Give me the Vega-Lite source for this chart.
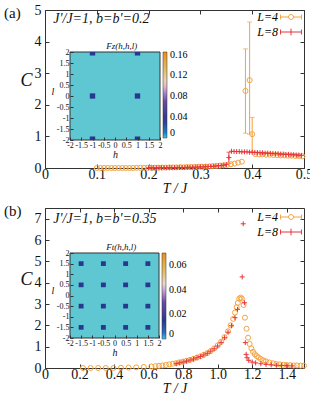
{
  "$schema": "https://vega.github.io/schema/vega-lite/v6.json",
  "padding": {"left": 3, "top": 2, "right": 0, "bottom": 0},
  "config": {
    "font": "Liberation Serif, Times New Roman, DejaVu Serif, serif",
    "view": {"stroke": "#333", "strokeWidth": 1},
    "axis": {"grid": false, "labelFont": "Liberation Serif, Times New Roman, DejaVu Serif, serif", "titleFont": "Liberation Serif, Times New Roman, DejaVu Serif, serif", "domainColor": "#333", "tickColor": "#333", "labelColor": "#111", "titleColor": "#111", "labelFlush": false, "labelOverlap": false},
    "legend": {"labelFont": "Liberation Serif, Times New Roman, DejaVu Serif, serif"},
    "text": {"color": "#111"}
  },
  "datasets": {
    "a": [
      {"T":0.100,"C":0,"L":"L=4"},{"T":0.107,"C":0,"L":"L=4"},{"T":0.114,"C":0,"L":"L=4"},{"T":0.121,"C":0,"L":"L=4"},{"T":0.128,"C":0,"L":"L=4"},{"T":0.135,"C":0,"L":"L=4"},{"T":0.142,"C":0,"L":"L=4"},{"T":0.149,"C":0,"L":"L=4"},{"T":0.156,"C":0,"L":"L=4"},{"T":0.163,"C":0,"L":"L=4"},{"T":0.170,"C":0,"L":"L=4"},{"T":0.177,"C":0.005,"L":"L=4"},{"T":0.184,"C":0.005,"L":"L=4"},{"T":0.191,"C":0.005,"L":"L=4"},{"T":0.198,"C":0.01,"L":"L=4"},{"T":0.205,"C":0.01,"L":"L=4"},{"T":0.212,"C":0.01,"L":"L=4"},{"T":0.219,"C":0.01,"L":"L=4"},{"T":0.226,"C":0.015,"L":"L=4"},{"T":0.233,"C":0.015,"L":"L=4"},{"T":0.240,"C":0.02,"L":"L=4"},{"T":0.247,"C":0.02,"L":"L=4"},{"T":0.254,"C":0.02,"L":"L=4"},{"T":0.261,"C":0.025,"L":"L=4"},{"T":0.268,"C":0.025,"L":"L=4"},{"T":0.275,"C":0.03,"L":"L=4"},{"T":0.282,"C":0.03,"L":"L=4"},{"T":0.289,"C":0.035,"L":"L=4"},{"T":0.296,"C":0.04,"L":"L=4"},{"T":0.303,"C":0.04,"L":"L=4"},{"T":0.310,"C":0.045,"L":"L=4"},{"T":0.317,"C":0.05,"L":"L=4"},{"T":0.324,"C":0.06,"L":"L=4"},{"T":0.331,"C":0.065,"L":"L=4"},{"T":0.338,"C":0.075,"L":"L=4"},{"T":0.345,"C":0.085,"L":"L=4"},{"T":0.352,"C":0.1,"L":"L=4"},{"T":0.359,"C":0.12,"L":"L=4"},{"T":0.366,"C":0.14,"L":"L=4"},{"T":0.373,"C":0.17,"L":"L=4"},{"T":0.380,"C":0.2,"L":"L=4"},
      {"T":0.387,"C":2.44,"L":"L=4","lo":1.1,"hi":3.77},{"T":0.395,"C":2.78,"L":"L=4","lo":1.07,"hi":4.62},{"T":0.400,"C":1.07,"L":"L=4","lo":0.5,"hi":1.6},
      {"T":0.406,"C":0.44,"L":"L=4"},{"T":0.413,"C":0.43,"L":"L=4"},{"T":0.420,"C":0.43,"L":"L=4"},{"T":0.427,"C":0.42,"L":"L=4"},{"T":0.434,"C":0.42,"L":"L=4"},{"T":0.441,"C":0.41,"L":"L=4"},{"T":0.448,"C":0.41,"L":"L=4"},{"T":0.455,"C":0.40,"L":"L=4"},{"T":0.462,"C":0.40,"L":"L=4"},{"T":0.469,"C":0.39,"L":"L=4"},{"T":0.476,"C":0.39,"L":"L=4"},{"T":0.483,"C":0.38,"L":"L=4"},{"T":0.490,"C":0.38,"L":"L=4"},{"T":0.497,"C":0.37,"L":"L=4"},
      {"T":0.200,"C":0.005,"L":"L=8"},{"T":0.205,"C":0.005,"L":"L=8"},{"T":0.210,"C":0.005,"L":"L=8"},{"T":0.215,"C":0.006,"L":"L=8"},{"T":0.220,"C":0.007,"L":"L=8"},{"T":0.225,"C":0.008,"L":"L=8"},{"T":0.230,"C":0.009,"L":"L=8"},{"T":0.235,"C":0.01,"L":"L=8"},{"T":0.240,"C":0.011,"L":"L=8"},{"T":0.245,"C":0.012,"L":"L=8"},{"T":0.250,"C":0.013,"L":"L=8"},{"T":0.255,"C":0.014,"L":"L=8"},{"T":0.260,"C":0.015,"L":"L=8"},{"T":0.265,"C":0.016,"L":"L=8"},{"T":0.270,"C":0.018,"L":"L=8"},{"T":0.275,"C":0.02,"L":"L=8"},{"T":0.280,"C":0.022,"L":"L=8"},{"T":0.285,"C":0.024,"L":"L=8"},{"T":0.290,"C":0.027,"L":"L=8"},{"T":0.295,"C":0.03,"L":"L=8"},{"T":0.300,"C":0.033,"L":"L=8"},{"T":0.305,"C":0.036,"L":"L=8"},{"T":0.310,"C":0.04,"L":"L=8"},{"T":0.315,"C":0.045,"L":"L=8"},{"T":0.320,"C":0.05,"L":"L=8"},{"T":0.325,"C":0.055,"L":"L=8"},{"T":0.330,"C":0.062,"L":"L=8"},{"T":0.335,"C":0.07,"L":"L=8"},{"T":0.340,"C":0.08,"L":"L=8"},{"T":0.345,"C":0.09,"L":"L=8"},{"T":0.350,"C":0.105,"L":"L=8"},
      {"T":0.355,"C":0.33,"L":"L=8","lo":0.15,"hi":0.5},
      {"T":0.360,"C":0.53,"L":"L=8"},{"T":0.365,"C":0.52,"L":"L=8"},{"T":0.370,"C":0.52,"L":"L=8"},{"T":0.375,"C":0.52,"L":"L=8"},{"T":0.380,"C":0.51,"L":"L=8"},{"T":0.385,"C":0.51,"L":"L=8"},{"T":0.390,"C":0.51,"L":"L=8"},{"T":0.395,"C":0.50,"L":"L=8"},{"T":0.400,"C":0.50,"L":"L=8"},{"T":0.405,"C":0.49,"L":"L=8"},{"T":0.410,"C":0.49,"L":"L=8"},{"T":0.415,"C":0.48,"L":"L=8"},{"T":0.420,"C":0.48,"L":"L=8"},{"T":0.425,"C":0.47,"L":"L=8"},{"T":0.430,"C":0.47,"L":"L=8"},{"T":0.435,"C":0.46,"L":"L=8"},{"T":0.440,"C":0.46,"L":"L=8"},{"T":0.445,"C":0.45,"L":"L=8"},{"T":0.450,"C":0.45,"L":"L=8"},{"T":0.455,"C":0.44,"L":"L=8"},{"T":0.460,"C":0.44,"L":"L=8"},{"T":0.465,"C":0.43,"L":"L=8"},{"T":0.470,"C":0.43,"L":"L=8"},{"T":0.475,"C":0.42,"L":"L=8"},{"T":0.480,"C":0.42,"L":"L=8"},{"T":0.485,"C":0.41,"L":"L=8"},{"T":0.490,"C":0.41,"L":"L=8"},{"T":0.495,"C":0.40,"L":"L=8"}
    ],
    "b": [
      {"T":0.22,"C":0,"L":"L=4"},{"T":0.264,"C":0,"L":"L=4"},{"T":0.308,"C":0,"L":"L=4"},{"T":0.352,"C":0,"L":"L=4"},{"T":0.396,"C":0,"L":"L=4"},{"T":0.44,"C":0.01,"L":"L=4"},{"T":0.484,"C":0.02,"L":"L=4"},{"T":0.528,"C":0.03,"L":"L=4"},{"T":0.572,"C":0.05,"L":"L=4"},{"T":0.616,"C":0.07,"L":"L=4"},{"T":0.64,"C":0.09,"L":"L=4"},{"T":0.66,"C":0.1,"L":"L=4"},{"T":0.68,"C":0.12,"L":"L=4"},{"T":0.70,"C":0.14,"L":"L=4"},{"T":0.72,"C":0.17,"L":"L=4"},{"T":0.74,"C":0.2,"L":"L=4"},{"T":0.76,"C":0.23,"L":"L=4"},{"T":0.78,"C":0.27,"L":"L=4"},{"T":0.80,"C":0.3,"L":"L=4"},{"T":0.82,"C":0.34,"L":"L=4"},{"T":0.84,"C":0.38,"L":"L=4"},{"T":0.86,"C":0.43,"L":"L=4"},{"T":0.88,"C":0.49,"L":"L=4"},{"T":0.90,"C":0.55,"L":"L=4"},{"T":0.92,"C":0.62,"L":"L=4"},{"T":0.94,"C":0.7,"L":"L=4"},{"T":0.96,"C":0.8,"L":"L=4"},{"T":0.98,"C":0.92,"L":"L=4"},{"T":1.00,"C":1.06,"L":"L=4"},{"T":1.02,"C":1.23,"L":"L=4"},{"T":1.04,"C":1.45,"L":"L=4"},{"T":1.06,"C":1.72,"L":"L=4"},{"T":1.075,"C":2.0,"L":"L=4"},{"T":1.09,"C":2.3,"L":"L=4"},{"T":1.10,"C":2.6,"L":"L=4"},{"T":1.11,"C":2.85,"L":"L=4"},{"T":1.117,"C":3.05,"L":"L=4"},{"T":1.125,"C":3.25,"L":"L=4"},{"T":1.133,"C":3.3,"L":"L=4"},{"T":1.14,"C":3.25,"L":"L=4"},{"T":1.15,"C":2.95,"L":"L=4"},{"T":1.158,"C":2.36,"L":"L=4"},{"T":1.167,"C":1.84,"L":"L=4"},{"T":1.176,"C":1.42,"L":"L=4"},{"T":1.185,"C":1.13,"L":"L=4"},{"T":1.195,"C":0.92,"L":"L=4"},{"T":1.205,"C":0.76,"L":"L=4"},{"T":1.215,"C":0.65,"L":"L=4"},{"T":1.226,"C":0.56,"L":"L=4"},{"T":1.237,"C":0.49,"L":"L=4"},{"T":1.25,"C":0.42,"L":"L=4"},{"T":1.265,"C":0.36,"L":"L=4"},{"T":1.28,"C":0.31,"L":"L=4"},{"T":1.30,"C":0.26,"L":"L=4"},{"T":1.32,"C":0.22,"L":"L=4"},{"T":1.34,"C":0.19,"L":"L=4"},{"T":1.36,"C":0.17,"L":"L=4"},{"T":1.38,"C":0.15,"L":"L=4"},{"T":1.40,"C":0.14,"L":"L=4"},{"T":1.42,"C":0.13,"L":"L=4"},{"T":1.44,"C":0.12,"L":"L=4"},{"T":1.46,"C":0.12,"L":"L=4"},{"T":1.48,"C":0.11,"L":"L=4"},{"T":1.50,"C":0.11,"L":"L=4"},
      {"T":0.76,"C":0.2,"L":"L=8"},{"T":0.78,"C":0.24,"L":"L=8"},{"T":0.80,"C":0.28,"L":"L=8"},{"T":0.82,"C":0.32,"L":"L=8"},{"T":0.84,"C":0.37,"L":"L=8"},{"T":0.86,"C":0.42,"L":"L=8"},{"T":0.88,"C":0.48,"L":"L=8"},{"T":0.90,"C":0.54,"L":"L=8"},{"T":0.92,"C":0.61,"L":"L=8"},{"T":0.94,"C":0.69,"L":"L=8"},{"T":0.96,"C":0.79,"L":"L=8"},{"T":0.98,"C":0.9,"L":"L=8"},{"T":1.00,"C":1.03,"L":"L=8"},{"T":1.02,"C":1.2,"L":"L=8"},{"T":1.04,"C":1.42,"L":"L=8"},{"T":1.06,"C":1.68,"L":"L=8"},{"T":1.08,"C":1.98,"L":"L=8"},{"T":1.10,"C":2.36,"L":"L=8"},{"T":1.115,"C":2.75,"L":"L=8"},{"T":1.142,"C":4.27,"L":"L=8"},{"T":1.148,"C":6.76,"L":"L=8"},{"T":1.155,"C":3.06,"L":"L=8"},{"T":1.16,"C":1.19,"L":"L=8"},{"T":1.165,"C":0.64,"L":"L=8"},{"T":1.17,"C":0.48,"L":"L=8"},{"T":1.18,"C":0.36,"L":"L=8"},{"T":1.20,"C":0.28,"L":"L=8"},{"T":1.22,"C":0.24,"L":"L=8"},{"T":1.25,"C":0.2,"L":"L=8"},{"T":1.28,"C":0.17,"L":"L=8"},{"T":1.31,"C":0.15,"L":"L=8"},{"T":1.34,"C":0.13,"L":"L=8"},{"T":1.37,"C":0.12,"L":"L=8"},{"T":1.40,"C":0.11,"L":"L=8"},{"T":1.43,"C":0.1,"L":"L=8"}
    ],
    "sqa": [
      {"h0":-1.12,"h1":-0.88,"l0":-0.12,"l1":0.12,"v":0.035},{"h0":0.88,"h1":1.12,"l0":-0.12,"l1":0.12,"v":0.035},
      {"h0":-1.12,"h1":-0.88,"l0":1.84,"l1":2,"v":0.035},{"h0":0.88,"h1":1.12,"l0":1.84,"l1":2,"v":0.035},
      {"h0":-1.12,"h1":-0.88,"l0":-2,"l1":-1.84,"v":0.035},{"h0":0.88,"h1":1.12,"l0":-2,"l1":-1.84,"v":0.035}
    ],
    "sqb": [
      {"h0":-1.61,"h1":-1.39,"l0":-1.61,"l1":-1.39,"v":0.015},{"h0":-0.61,"h1":-0.39,"l0":-1.61,"l1":-1.39,"v":0.015},{"h0":0.39,"h1":0.61,"l0":-1.61,"l1":-1.39,"v":0.015},{"h0":1.39,"h1":1.61,"l0":-1.61,"l1":-1.39,"v":0.015},
      {"h0":-1.61,"h1":-1.39,"l0":-0.61,"l1":-0.39,"v":0.015},{"h0":-0.61,"h1":-0.39,"l0":-0.61,"l1":-0.39,"v":0.015},{"h0":0.39,"h1":0.61,"l0":-0.61,"l1":-0.39,"v":0.015},{"h0":1.39,"h1":1.61,"l0":-0.61,"l1":-0.39,"v":0.015},
      {"h0":-1.61,"h1":-1.39,"l0":0.39,"l1":0.61,"v":0.015},{"h0":-0.61,"h1":-0.39,"l0":0.39,"l1":0.61,"v":0.015},{"h0":0.39,"h1":0.61,"l0":0.39,"l1":0.61,"v":0.015},{"h0":1.39,"h1":1.61,"l0":0.39,"l1":0.61,"v":0.015},
      {"h0":-1.61,"h1":-1.39,"l0":1.39,"l1":1.61,"v":0.015},{"h0":-0.61,"h1":-0.39,"l0":1.39,"l1":1.61,"v":0.015},{"h0":0.39,"h1":0.61,"l0":1.39,"l1":1.61,"v":0.015},{"h0":1.39,"h1":1.61,"l0":1.39,"l1":1.61,"v":0.015}
    ]
  },
  "vconcat": [
    {
      "width": 259, "height": 158,
      "resolve": {"scale": {"x": "independent", "y": "independent", "color": "independent", "stroke": "independent"}},
      "layer": [
        {
          "data": {"name": "a"},
          "transform": [{"filter": "isValid(datum.lo)"}],
          "mark": {"type": "rule", "strokeWidth": 1},
          "encoding": {
            "x": {"field": "T", "type": "quantitative", "scale": {"domain": [0, 0.5], "nice": false}, "axis": {"orient": "top", "values": [0, 0.1, 0.2, 0.3, 0.4, 0.5], "labels": false, "domain": false, "tickSize": -4, "title": null}},
            "y": {"field": "lo", "type": "quantitative", "scale": {"domain": [0, 5], "nice": false}, "axis": {"orient": "right", "values": [0, 1, 2, 3, 4, 5], "labels": false, "domain": false, "tickSize": -4, "title": null}},
            "y2": {"field": "hi"},
            "color": {"condition": {"test": "datum.L === 'L=4'", "value": "#f4a340"}, "value": "#e8333a"}
          }
        },
        {
          "data": {"name": "a"},
          "transform": [{"filter": "isValid(datum.lo)"}, {"fold": ["lo", "hi"], "as": ["k", "e"]}],
          "mark": {"type": "tick", "orient": "horizontal", "size": 5, "thickness": 1},
          "encoding": {
            "x": {"field": "T", "type": "quantitative", "scale": {"domain": [0, 0.5], "nice": false}, "axis": null},
            "y": {"field": "e", "type": "quantitative", "scale": {"domain": [0, 5], "nice": false}, "axis": null},
            "color": {"condition": {"test": "datum.L === 'L=4'", "value": "#f4a340"}, "value": "#e8333a"}
          }
        },
        {
          "data": {"name": "a"},
          "transform": [{"filter": "datum.L === 'L=4'"}],
          "mark": {"type": "point", "shape": "circle", "filled": false, "strokeWidth": 1, "size": 25, "opacity": 1},
          "encoding": {
            "x": {"field": "T", "type": "quantitative", "scale": {"domain": [0, 0.5], "nice": false}, "axis": {"orient": "bottom", "values": [0, 0.1, 0.2, 0.3, 0.4, 0.5], "format": ".1~f", "tickSize": -4, "labelPadding": 3, "labelFontSize": 14, "title": "T / J", "titleFontStyle": "italic", "titleFontWeight": "normal", "titleFontSize": 14, "titlePadding": 0}},
            "y": {"field": "C", "type": "quantitative", "scale": {"domain": [0, 5], "nice": false}, "axis": {"orient": "left", "values": [0, 1, 2, 3, 4, 5], "tickSize": -4, "labelPadding": 8, "labelFontSize": 14, "title": "C", "titleAngle": 0, "titleFontStyle": "italic", "titleFontWeight": "normal", "titleFontSize": 18, "titlePadding": 8}},
            "stroke": {"field": "L", "type": "nominal", "scale": {"domain": ["L=4"], "range": ["#f4a340"]},
              "legend": {"orient": "none", "legendX": 240, "legendY": 1, "title": null, "padding": 0, "symbolSize": 121, "symbolStrokeWidth": 1, "symbolType": "M-1.9,-0.45L-1.9,0.45M1.9,-0.45L1.9,0.45M-1.9,0L-0.45,0M0.45,0L1.9,0M0.45,0A0.45,0.45 0 1,1 -0.45,0A0.45,0.45 0 1,1 0.45,0", "labelAlign": "right", "labelOffset": -19, "labelFontSize": 12, "labelFontStyle": "italic"}}
          }
        },
        {
          "data": {"name": "a"},
          "transform": [{"filter": "datum.L === 'L=8'"}],
          "mark": {"type": "point", "shape": "M-1,0L1,0M0,-1L0,1", "filled": false, "strokeWidth": 1, "size": 25, "opacity": 1},
          "encoding": {
            "x": {"field": "T", "type": "quantitative", "scale": {"domain": [0, 0.5], "nice": false}, "axis": null},
            "y": {"field": "C", "type": "quantitative", "scale": {"domain": [0, 5], "nice": false}, "axis": null},
            "color": {"field": "L", "type": "nominal", "scale": {"domain": ["L=8"], "range": ["#e8333a"]},
              "legend": {"orient": "none", "legendX": 240, "legendY": 16, "title": null, "padding": 0, "symbolSize": 121, "symbolStrokeWidth": 1, "symbolType": "M-1.9,-0.45L-1.9,0.45M1.9,-0.45L1.9,0.45M-1.9,0L1.9,0M0,-0.6L0,0.6", "labelAlign": "right", "labelOffset": -19, "labelFontSize": 12, "labelFontStyle": "italic"}}
          }
        },
        {
          "data": {"values": [{}]},
          "mark": {"type": "text", "text": "(a)", "fontSize": 15, "align": "left", "baseline": "middle"},
          "encoding": {"x": {"datum": -0.079, "type": "quantitative", "scale": {"domain": [0, 0.5], "nice": false}, "axis": null}, "y": {"datum": 4.9, "type": "quantitative", "scale": {"domain": [0, 5], "nice": false}, "axis": null}}
        },
        {
          "data": {"values": [{}]},
          "mark": {"type": "text", "text": "J'/J=1,  b=b'=0.2", "fontSize": 14, "fontStyle": "italic", "align": "left", "baseline": "middle"},
          "encoding": {"x": {"datum": 0.016, "type": "quantitative", "scale": {"domain": [0, 0.5], "nice": false}, "axis": null}, "y": {"datum": 4.7, "type": "quantitative", "scale": {"domain": [0, 5], "nice": false}, "axis": null}}
        },
        {
          "data": {"values": [{}]},
          "mark": {"type": "rect", "fill": "#5fc7d2", "stroke": "#333", "strokeWidth": 1},
          "encoding": {
            "x": {"datum": -2, "type": "quantitative", "scale": {"domain": [-2, 2], "range": [25, 115], "nice": false}, "axis": null},
            "x2": {"datum": 2},
            "y": {"datum": -2, "type": "quantitative", "scale": {"domain": [-2, 2], "range": [130, 42], "nice": false}, "axis": null},
            "y2": {"datum": 2}
          }
        },
        {
          "data": {"name": "sqa"},
          "mark": {"type": "rect"},
          "encoding": {
            "x": {"field": "h0", "type": "quantitative", "scale": {"domain": [-2, 2], "range": [25, 115], "nice": false}, "axis": {"orient": "bottom", "offset": -28, "zindex": 2, "values": [-2, -1.5, -1, -0.5, 0, 0.5, 1, 1.5, 2], "labelExpr": "'' + datum.value", "labelFontSize": 8, "tickSize": -3, "labelPadding": 4, "domain": false, "title": "h", "titleFontStyle": "italic", "titleFontWeight": "normal", "titleFontSize": 10, "titlePadding": 0}},
            "x2": {"field": "h1"},
            "y": {"field": "l0", "type": "quantitative", "scale": {"domain": [-2, 2], "range": [130, 42], "nice": false}, "axis": {"orient": "left", "offset": -25, "zindex": 2, "values": [-2, -1.5, -1, -0.5, 0, 0.5, 1, 1.5, 2], "labelExpr": "'' + datum.value", "labelFontSize": 8, "tickSize": -3, "labelPadding": 4, "domain": false, "title": "l", "titleAngle": 0, "titleFontStyle": "italic", "titleFontWeight": "normal", "titleFontSize": 10, "titlePadding": 4}},
            "y2": {"field": "l1"},
            "color": {"field": "v", "type": "quantitative",
              "scale": {"domain": [0, 0.012, 0.035, 0.07, 0.095, 0.105, 0.13, 0.165], "range": ["#3cc8dc", "#2f6fc0", "#283890", "#6a4aa8", "#c8a8d8", "#e8d8c8", "#e0c068", "#f08c1c"]},
              "legend": {"orient": "none", "legendX": 118, "legendY": 42, "title": null, "padding": 0, "direction": "vertical", "gradientLength": 86, "gradientThickness": 4, "gradientStrokeColor": "#333", "gradientStrokeWidth": 0.5, "values": [0, 0.04, 0.08, 0.12, 0.16], "format": ".2~f", "labelFontSize": 10, "labelOffset": 3, "labelOverlap": false}}
          }
        },
        {
          "data": {"values": [{}]},
          "mark": {"type": "text", "text": "Fz(h,h,l)", "fontSize": 9, "fontStyle": "italic", "align": "center", "baseline": "bottom", "dy": -1},
          "encoding": {"x": {"datum": 0.3, "type": "quantitative", "scale": {"domain": [-2, 2], "range": [25, 115], "nice": false}, "axis": null}, "y": {"datum": 2, "type": "quantitative", "scale": {"domain": [-2, 2], "range": [130, 42], "nice": false}, "axis": null}}
        }
      ]
    },
    {
      "width": 259, "height": 160,
      "resolve": {"scale": {"x": "independent", "y": "independent", "color": "independent", "stroke": "independent"}},
      "layer": [
        {
          "data": {"name": "b"},
          "mark": {"type": "point", "filled": false, "strokeWidth": 0, "size": 1},
          "encoding": {
            "x": {"field": "T", "type": "quantitative", "scale": {"domain": [0, 1.5], "nice": false}, "axis": {"orient": "top", "values": [0, 0.2, 0.4, 0.6, 0.8, 1.0, 1.2, 1.4], "labels": false, "domain": false, "tickSize": -4, "title": null}},
            "y": {"field": "C", "type": "quantitative", "scale": {"domain": [0, 7.5], "nice": false}, "axis": {"orient": "right", "values": [0, 1, 2, 3, 4, 5, 6, 7], "labels": false, "domain": false, "tickSize": -4, "title": null}}
          }
        },
        {
          "data": {"name": "b"},
          "transform": [{"filter": "datum.L === 'L=4'"}],
          "mark": {"type": "point", "shape": "circle", "filled": false, "strokeWidth": 1, "size": 25, "opacity": 1},
          "encoding": {
            "x": {"field": "T", "type": "quantitative", "scale": {"domain": [0, 1.5], "nice": false}, "axis": {"orient": "bottom", "values": [0, 0.2, 0.4, 0.6, 0.8, 1.0, 1.2, 1.4], "labelExpr": "datum.value == 0 ? '0' : format(datum.value, '.1f')", "tickSize": -4, "labelPadding": 3, "labelFontSize": 14, "title": "T / J", "titleFontStyle": "italic", "titleFontWeight": "normal", "titleFontSize": 14, "titlePadding": 0}},
            "y": {"field": "C", "type": "quantitative", "scale": {"domain": [0, 7.5], "nice": false}, "axis": {"orient": "left", "values": [0, 1, 2, 3, 4, 5, 6, 7], "tickSize": -4, "labelPadding": 8, "labelFontSize": 14, "title": "C", "titleAngle": 0, "titleFontStyle": "italic", "titleFontWeight": "normal", "titleFontSize": 18, "titlePadding": 8}},
            "stroke": {"field": "L", "type": "nominal", "scale": {"domain": ["L=4"], "range": ["#f4a340"]},
              "legend": {"orient": "none", "legendX": 240, "legendY": 3, "title": null, "padding": 0, "symbolSize": 121, "symbolStrokeWidth": 1, "symbolType": "M-1.9,-0.45L-1.9,0.45M1.9,-0.45L1.9,0.45M-1.9,0L-0.45,0M0.45,0L1.9,0M0.45,0A0.45,0.45 0 1,1 -0.45,0A0.45,0.45 0 1,1 0.45,0", "labelAlign": "right", "labelOffset": -19, "labelFontSize": 12, "labelFontStyle": "italic"}}
          }
        },
        {
          "data": {"name": "b"},
          "transform": [{"filter": "datum.L === 'L=8'"}],
          "mark": {"type": "point", "shape": "M-1,0L1,0M0,-1L0,1", "filled": false, "strokeWidth": 1, "size": 25, "opacity": 1},
          "encoding": {
            "x": {"field": "T", "type": "quantitative", "scale": {"domain": [0, 1.5], "nice": false}, "axis": null},
            "y": {"field": "C", "type": "quantitative", "scale": {"domain": [0, 7.5], "nice": false}, "axis": null},
            "color": {"field": "L", "type": "nominal", "scale": {"domain": ["L=8"], "range": ["#e8333a"]},
              "legend": {"orient": "none", "legendX": 240, "legendY": 18, "title": null, "padding": 0, "symbolSize": 121, "symbolStrokeWidth": 1, "symbolType": "M-1.9,-0.45L-1.9,0.45M1.9,-0.45L1.9,0.45M-1.9,0L1.9,0M0,-0.6L0,0.6", "labelAlign": "right", "labelOffset": -19, "labelFontSize": 12, "labelFontStyle": "italic"}}
          }
        },
        {
          "data": {"values": [{}]},
          "mark": {"type": "text", "text": "(b)", "fontSize": 15, "align": "left", "baseline": "middle"},
          "encoding": {"x": {"datum": -0.237, "type": "quantitative", "scale": {"domain": [0, 1.5], "nice": false}, "axis": null}, "y": {"datum": 7.35, "type": "quantitative", "scale": {"domain": [0, 7.5], "nice": false}, "axis": null}}
        },
        {
          "data": {"values": [{}]},
          "mark": {"type": "text", "text": "J'/J=1,  b=b'=0.35", "fontSize": 14, "fontStyle": "italic", "align": "left", "baseline": "middle"},
          "encoding": {"x": {"datum": 0.048, "type": "quantitative", "scale": {"domain": [0, 1.5], "nice": false}, "axis": null}, "y": {"datum": 7.0, "type": "quantitative", "scale": {"domain": [0, 7.5], "nice": false}, "axis": null}}
        },
        {
          "data": {"values": [{}]},
          "mark": {"type": "rect", "fill": "#5fc7d2", "stroke": "#333", "strokeWidth": 1},
          "encoding": {
            "x": {"datum": -2, "type": "quantitative", "scale": {"domain": [-2, 2], "range": [25, 114], "nice": false}, "axis": null},
            "x2": {"datum": 2},
            "y": {"datum": -2, "type": "quantitative", "scale": {"domain": [-2, 2], "range": [130, 45], "nice": false}, "axis": null},
            "y2": {"datum": 2}
          }
        },
        {
          "data": {"name": "sqb"},
          "mark": {"type": "rect"},
          "encoding": {
            "x": {"field": "h0", "type": "quantitative", "scale": {"domain": [-2, 2], "range": [25, 114], "nice": false}, "axis": {"orient": "bottom", "offset": -30, "zindex": 2, "values": [-2, -1.5, -1, -0.5, 0, 0.5, 1, 1.5, 2], "labelExpr": "'' + datum.value", "labelFontSize": 8, "tickSize": -3, "labelPadding": 4, "domain": false, "title": "h", "titleFontStyle": "italic", "titleFontWeight": "normal", "titleFontSize": 10, "titlePadding": 0}},
            "x2": {"field": "h1"},
            "y": {"field": "l0", "type": "quantitative", "scale": {"domain": [-2, 2], "range": [130, 45], "nice": false}, "axis": {"orient": "left", "offset": -25, "zindex": 2, "values": [-2, -1.5, -1, -0.5, 0, 0.5, 1, 1.5, 2], "labelExpr": "'' + datum.value", "labelFontSize": 8, "tickSize": -3, "labelPadding": 4, "domain": false, "title": "l", "titleAngle": 0, "titleFontStyle": "italic", "titleFontWeight": "normal", "titleFontSize": 10, "titlePadding": 4}},
            "y2": {"field": "l1"},
            "color": {"field": "v", "type": "quantitative",
              "scale": {"domain": [0, 0.005, 0.015, 0.03, 0.04, 0.045, 0.055, 0.07], "range": ["#3cc8dc", "#2f6fc0", "#283890", "#6a4aa8", "#c8a8d8", "#e8d8c8", "#e0c068", "#f08c1c"]},
              "legend": {"orient": "none", "legendX": 117, "legendY": 45, "title": null, "padding": 0, "direction": "vertical", "gradientLength": 86, "gradientThickness": 4, "gradientStrokeColor": "#333", "gradientStrokeWidth": 0.5, "values": [0, 0.02, 0.04, 0.06], "format": ".2~f", "labelFontSize": 10, "labelOffset": 3, "labelOverlap": false}}
          }
        },
        {
          "data": {"values": [{}]},
          "mark": {"type": "text", "text": "Ft(h,h,l)", "fontSize": 9, "fontStyle": "italic", "align": "center", "baseline": "bottom", "dy": -1},
          "encoding": {"x": {"datum": 0.3, "type": "quantitative", "scale": {"domain": [-2, 2], "range": [25, 114], "nice": false}, "axis": null}, "y": {"datum": 2, "type": "quantitative", "scale": {"domain": [-2, 2], "range": [130, 45], "nice": false}, "axis": null}}
        }
      ]
    }
  ],
  "spacing": 7
}
